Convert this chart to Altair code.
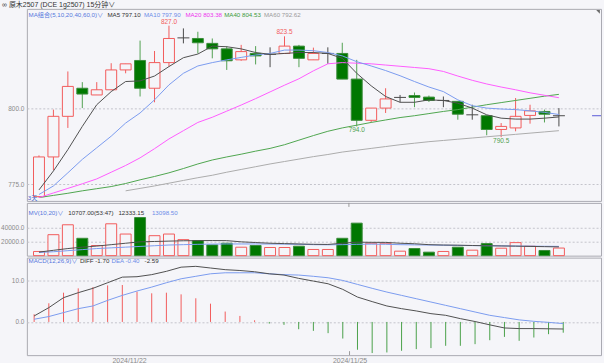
import altair as alt
import pandas as pd
import numpy as np

# ---------------- data ----------------
idx = list(range(37))
opens = [771.0, 784.0, 797.3, 806.5, 804.3, 806.0, 812.5, 815.6, 806.5, 814.9,
         823.0, 822.8, 821.2, 819.4, 815.8, 817.9, 817.6, 817.9, 820.3, 815.8,
         817.9, 817.9, 809.5, 796.0, 800.0, 803.5, 804.1, 803.6, 802.5, 802.2,
         797.8, 797.5, 793.0, 793.5, 797.6, 798.9, 797.5]
closes = [784.0, 797.3, 807.1, 804.6, 806.0, 812.5, 814.5, 806.5, 814.9, 822.8,
          823.0, 821.4, 819.4, 815.5, 818.5, 817.1, 817.6, 820.3, 816.3, 817.9,
          817.9, 809.5, 796.0, 800.0, 803.0, 803.5, 803.5, 802.5, 802.5, 798.0,
          797.8, 793.0, 794.0, 797.3, 799.1, 798.0, 797.5]
highs = [784.5, 799.5, 812.0, 808.5, 808.5, 814.7, 814.5, 822.1, 818.7, 827.0,
         826.1, 825.0, 822.8, 820.3, 820.7, 820.3, 819.9, 823.5, 820.7, 819.8,
         819.9, 821.4, 815.8, 800.0, 806.5, 804.3, 805.1, 804.1, 803.8, 802.2,
         801.1, 797.5, 795.1, 803.3, 801.1, 799.5, 800.0]
lows = [770.7, 779.7, 793.5, 800.0, 804.3, 806.0, 811.4, 803.8, 801.9, 813.6,
        821.2, 817.9, 816.3, 812.5, 815.5, 814.3, 813.4, 817.9, 813.4, 815.8,
        814.5, 809.5, 794.0, 795.3, 798.4, 801.9, 800.3, 802.0, 800.3, 796.2,
        796.2, 791.1, 790.5, 792.4, 794.9, 795.3, 794.0]
ma5 = [773.2, 779.4, 786.4, 794.0, 801.1, 805.4, 808.7, 808.9, 810.5, 813.6,
       816.5, 817.7, 820.3, 820.1, 819.4, 818.2, 817.6, 817.9, 818.2, 818.2,
       817.9, 816.3, 811.4, 807.3, 803.8, 801.9, 801.9, 802.7, 802.5, 801.6,
       800.0, 797.8, 796.7, 796.4, 796.4, 796.7, 797.1]
ma10 = [771.7, 774.5, 778.8, 783.2, 787.0, 790.8, 795.1, 798.4, 802.7, 807.6,
        811.4, 813.8, 814.9, 815.8, 816.6, 817.4, 817.9, 819.0, 819.0, 818.8,
        818.2, 817.1, 815.2, 813.8, 812.3, 810.6, 808.7, 806.9, 805.4, 802.7,
        800.8, 800.0, 799.7, 799.5, 799.1, 798.6, 797.9]
ma20 = [770.7, 772.2, 773.7, 775.2, 776.8, 779.0, 781.2, 783.7, 786.7, 789.9,
        792.6, 795.3, 797.0, 799.0, 801.0, 803.1, 805.3, 807.5, 809.6, 812.2,
        814.5, 814.9, 814.7, 814.5, 814.1, 813.7, 813.3, 812.9, 812.0, 810.5,
        809.1, 807.9, 806.9, 806.0, 805.0, 804.2, 803.4]
ma40 = [770.7, 771.4, 772.1, 772.9, 773.6, 774.3, 775.3, 776.5, 777.6, 778.8,
        780.2, 781.7, 783.0, 784.0, 784.9, 785.9, 786.8, 788.0, 789.5, 791.0,
        792.4, 793.5, 794.4, 795.3, 796.1, 796.9, 797.5, 798.2, 798.9, 799.5,
        800.3, 801.1, 801.8, 802.5, 803.2, 803.9, 804.5]
ma60 = [None, None, None, None, None, None, 772.9, 773.7, 774.5, 775.4,
        776.3, 777.2, 778.0, 779.0, 779.9, 780.8, 781.7, 782.5, 783.3, 784.1,
        784.8, 785.6, 786.2, 786.8, 787.4, 788.0, 788.5, 789.0, 789.4, 789.8,
        790.2, 790.6, 791.0, 791.4, 791.8, 792.2, 792.6]
volume = [5900, 29600, 43600, 24500, 14300, 45000, 30500, 53800, 28200, 30500,
          22600, 21200, 15100, 17500, 11900, 14300, 11500, 11500, 13300, 8700,
          8700, 24500, 45900, 17500, 17500, 6300, 10000, 4900, 5900, 11900,
          7700, 17000, 10500, 18400, 13300, 7300, 10700]
mv10 = [5000, 7500, 10000, 12000, 13500, 15500, 17500, 19500, 20000, 20500,
        21000, 21200, 21300, 21200, 19500, 18500, 17500, 17000, 16500, 16000,
        15800, 17500, 19000, 18800, 18700, 17500, 16800, 15500, 15000, 14800,
        14300, 14000, 13700, 13400, 13000, 12700, 12333]
mv20 = [4500, 5500, 7000, 8500, 10000, 11000, 12000, 13000, 14000, 15000,
        15500, 16000, 16300, 16500, 16500, 16500, 16400, 16300, 16000, 15500,
        15300, 15500, 16000, 16200, 16000, 15500, 15200, 15000, 14700, 14400,
        14200, 14000, 13800, 13600, 13400, 13200, 13098]
diff = [1.44, 3.45, 5.85, 7.05, 8.1, 9.45, 10.8, 10.9, 11.4, 12.2,
        13.2, 13.4, 13.0, 12.6, 12.4, 12.1, 11.6, 11.3, 10.5, 9.85,
        9.2, 7.85, 6.0, 4.9, 3.85, 3.2, 2.65, 2.0, 1.6, 0.8,
        0.1, -0.7, -1.45, -1.6, -1.6, -1.65, -1.70]
dea = [0.65, 1.3, 2.25, 3.2, 3.85, 5.2, 6.4, 7.45, 8.4, 9.45,
       10.4, 11.0, 11.6, 11.85, 11.85, 11.85, 11.6, 11.4, 11.3, 11.0,
       10.65, 10.0, 9.05, 8.1, 7.2, 6.4, 5.6, 4.8, 4.0, 3.2,
       2.4, 1.6, 1.05, 0.5, 0.15, -0.1, -0.4]
macd = [1.85, 4.5, 7.05, 8.1, 8.4, 8.8, 8.9, 7.3, 6.9, 7.05,
        6.65, 5.7, 4.4, 2.5, 1.45, 0.4, -0.4, -0.7, -1.75, -2.15,
        -2.7, -4.0, -6.7, -7.5, -7.35, -6.95, -6.55, -6.3, -5.75, -5.75,
        -5.35, -4.4, -3.6, -4.55, -3.75, -2.95, -2.59]

# annotations (bar index, value)
hi_idx = [9, 17]
hi_val = [827.0, 823.5]
lo_idx = [22, 32]
lo_val = [794.0, 790.5]

date_pos = [6.46, 21.46]
date_labels = ["2024/11/22", "2024/11/25"]

header_text = "∞ 原木2507 (DCE 1g2507)   15分钟∨"
ma_legend = ["MA组合(5,10,20,40,60,0)∨", "MA5 797.10", "MA10 797.90",
             "MA20 803.38", "MA40 804.53", "MA60 792.62"]
mv_legend = ["MV(10,20)∨", "10707.00(53:47)", "12333.15", "13098.50"]
macd_legend = ["MACD(12,26,9)∨", "DIFF -1.70", "DEA -0.40", "-2.59"]

# ---------------- build ----------------
df = pd.DataFrame({
    "i": idx, "open": opens, "close": closes, "high": highs, "low": lows,
    "ma5": ma5, "ma10": ma10, "ma20": ma20, "ma40": ma40, "ma60": ma60,
    "vol": volume, "mv10": mv10, "mv20": mv20,
    "diff": diff, "dea": dea, "macd": macd,
})
o = np.array(opens); c = np.array(closes)
df["kind"] = np.where(c > o, "up", np.where(c < o, "down", "doji"))

BG = "#f5f5f9"
RED = "#f25c5c"
GREEN = "#007800"
GREEN_S = "#3a8c3a"
GREEN_L = "#52a052"
DOJI = "#4a4a4a"
FONT = "Liberation Sans, Noto Sans CJK SC"
LBL = "#8a8a8a"
LEGF = 6.2

W = 577
xscale = alt.Scale(domain=[-0.494, 38.57], nice=False, zero=False)


def yaxis(vals, fmt=".1f"):
    return alt.Axis(values=vals, format=fmt, labelFontSize=6.5, labelColor=LBL,
                    labelFont=FONT, ticks=False, domain=False, grid=True,
                    gridColor="#c4c4cc", gridDash=[2, 2], labelPadding=3,
                    minExtent=25, maxExtent=25, title=None)


def label(text, px, py, color, size=LEGF, baseline="middle"):
    return alt.Chart(pd.DataFrame({"t": [text]})).mark_text(
        align="left", baseline=baseline, fontSize=size, font=FONT, color=color
    ).encode(x=alt.value(px), y=alt.value(py), text="t:N")


X = alt.X("i:Q", scale=xscale, axis=None)
base = alt.Chart(df)
up_f = "datum.kind == 'up'"
dn_f = "datum.kind == 'down'"
dj_f = "datum.kind == 'doji'"
date_df = pd.DataFrame({"i": date_pos[1:]})

# ----- main panel -----
main_dom = alt.Scale(domain=[769.6, 832.5], nice=False, zero=False)
ya = yaxis([775, 800])


def YM(field):
    return alt.Y(f"{field}:Q", scale=main_dom, axis=ya)


layers = []
for flt, col in [(up_f, RED), (dn_f, GREEN_L), (dj_f, DOJI)]:
    layers.append(base.transform_filter(flt).mark_rule(strokeWidth=1, color=col).encode(
        x=X, y=YM("low"), y2="high:Q"))
layers.append(base.transform_filter(up_f).mark_bar(size=11, strokeWidth=1, fill=BG, stroke=RED).encode(
    x=X, y=YM("open"), y2="close:Q"))
layers.append(base.transform_filter(dn_f).mark_bar(size=11, strokeWidth=1, fill=GREEN, stroke=GREEN_S).encode(
    x=X, y=YM("open"), y2="close:Q"))
layers.append(base.transform_filter(dj_f).mark_tick(
    orient="horizontal", size=12, thickness=1, color=DOJI, opacity=1).encode(x=X, y=YM("open")))

ma_cols = ["ma60", "ma40", "ma20", "ma10", "ma5"]
ma_colors = ["#ababab", "#4fa54f", "#ff5cff", "#7b9bef", "#505050"]
for f, col in zip(ma_cols, ma_colors):
    layers.append(base.mark_line(strokeWidth=1, color=col).encode(x=X, y=YM(f)))

hi_df = pd.DataFrame({"i": hi_idx, "v": hi_val})
lo_df = pd.DataFrame({"i": lo_idx, "v": lo_val})
layers.append(alt.Chart(hi_df).mark_text(baseline="bottom", dy=-1, fontSize=6.5, font=FONT, color=RED).encode(
    x=X, y=YM("v"), text=alt.Text("v:Q", format=".1f")))
layers.append(alt.Chart(lo_df).mark_text(baseline="top", dy=1, fontSize=6.5, font=FONT, color="#4f9f4f").encode(
    x=X, y=YM("v"), text=alt.Text("v:Q", format=".1f")))

last_df = pd.DataFrame({"v": [closes[-1]]})
layers.append(alt.Chart(last_df).mark_rule(color="#5a5ad8", strokeWidth=1).encode(
    y=YM("v"), x=alt.value(568), x2=alt.value(577)))

# corner marker (top right)
layers.append(alt.Chart(pd.DataFrame({"t": [1]})).mark_point(
    shape="M -1 -1 L 1 -1 L 1 1 Z", filled=True, color="#6a6a6a", opacity=1, size=14).encode(
    x=alt.value(574), y=alt.value(3)))

leg_x = [1.7, 81, 117.7, 159.3, 198.3, 238.3]
leg_c = ["#5577dd", "#333333", "#6b8ce8", "#ee33ee", "#3a9a3a", "#9a9a9a"]
layers += [label(t, x_, 5.7, col) for t, x_, col in zip(ma_legend, leg_x, leg_c)]
layers.append(label("3天", 1, 190, "#4466cc"))

main = alt.layer(*layers).properties(width=W, height=193)

# ----- volume panel -----
vol_dom = alt.Scale(domain=[0, 74500], nice=False)
va = yaxis([20000, 40000])


def YV(field):
    return alt.Y(f"{field}:Q", scale=vol_dom, axis=va)


vlayers = [
    base.transform_filter("datum.kind != 'down'").mark_bar(size=11, strokeWidth=1, fill=BG, stroke=RED).encode(
        x=X, y=YV("vol")),
    base.transform_filter(dn_f).mark_bar(size=11, strokeWidth=1, fill=GREEN, stroke=GREEN_S).encode(
        x=X, y=YV("vol")),
    base.mark_line(strokeWidth=1, color="#7b9bef").encode(x=X, y=YV("mv20")),
    base.mark_line(strokeWidth=1, color="#505050").encode(x=X, y=YV("mv10")),
    alt.Chart(date_df).mark_rule(color="#999999", strokeWidth=1).encode(
        x=X, y=alt.value(0), y2=alt.value(4)),
]
mv_x = [1.7, 41.7, 92, 125.7]
mv_c = ["#5577dd", "#333333", "#333333", "#6b8ce8"]
vlayers += [label(t, x_, 10, col) for t, x_, col in zip(mv_legend, mv_x, mv_c)]
volp = alt.layer(*vlayers).properties(width=W, height=53)

# ----- MACD panel -----
m_dom = alt.Scale(domain=[-8.0, 15.5], nice=False, zero=False)
ma_ax = yaxis([0, 10])
label_expr = " : ".join(
    [f"datum.value < {date_pos[k] + 1} ? '{date_labels[k]}'" for k in range(len(date_pos) - 1)]
    + [f"'{date_labels[-1]}'"])
xaxis = alt.Axis(values=date_pos, labelExpr=label_expr,
                 labelFontSize=7, labelColor=LBL, labelFont=FONT, ticks=False, domain=False,
                 grid=False, labelPadding=1, title=None)
XM = alt.X("i:Q", scale=xscale, axis=xaxis)


def YD(field):
    return alt.Y(f"{field}:Q", scale=m_dom, axis=ma_ax)


mlayers = [
    base.transform_filter("datum.macd >= 0").mark_rule(strokeWidth=1, color=RED).encode(
        x=XM, y=YD("macd"), y2=alt.datum(0)),
    base.transform_filter("datum.macd < 0").mark_rule(strokeWidth=1, color="#4aa04a").encode(
        x=XM, y=YD("macd"), y2=alt.datum(0)),
    base.mark_line(strokeWidth=1, color="#7b9bef").encode(x=XM, y=YD("dea")),
    base.mark_line(strokeWidth=1, color="#505050").encode(x=XM, y=YD("diff")),
    alt.Chart(date_df).mark_rule(color="#999999", strokeWidth=1).encode(
        x=XM, y=alt.value(94), y2=alt.value(98)),
]
md_x = [1.7, 53.3, 85, 118.3]
md_c = ["#5577dd", "#333333", "#6b8ce8", "#333333"]
mlayers += [label(t, x_, 3.7, col) for t, x_, col in zip(macd_legend, md_x, md_c)]
macdp = alt.layer(*mlayers).properties(width=W, height=98)

chart = alt.vconcat(main, volp, macdp, spacing=0).resolve_scale(
    y="independent"
).properties(
    title=alt.TitleParams(text=header_text, anchor="start", frame="bounds", fontSize=7,
                          font=FONT, color="#333333", fontWeight="normal", offset=0, dx=2),
    padding={"left": 0, "top": 0, "right": 2, "bottom": 0},
).configure(background=BG).configure_view(stroke="#a9a9b1", strokeWidth=1, fill=BG)

chart.save("out.html", embed_options={"renderer": "svg", "actions": False})
